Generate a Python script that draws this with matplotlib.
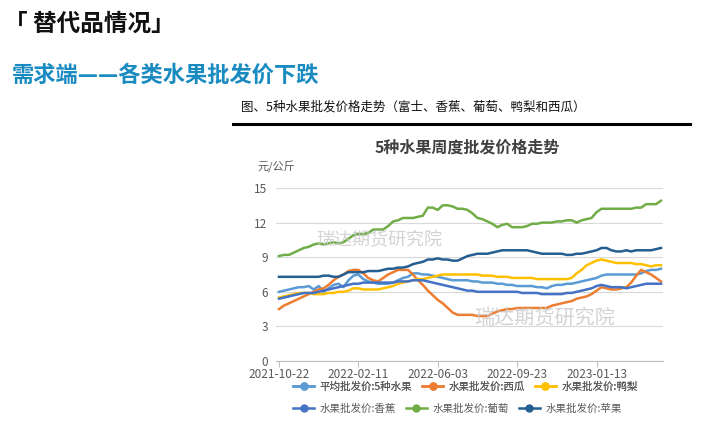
import numpy as np
import pandas as pd
import matplotlib
matplotlib.use("Agg")
import matplotlib.pyplot as plt
from matplotlib.lines import Line2D

plt.rcParams['font.family'] = ['Noto Sans CJK SC', 'DejaVu Sans']

# weekly dates, 2021-10-22 onwards
dates = pd.date_range('2021-10-22', periods=78, freq='7D')
tick_idx = [0, 16, 32, 48, 64]

avg5 = [6.0, 6.1, 6.2, 6.3, 6.4, 6.4, 6.5, 6.2, 6.5, 6.0, 6.3, 6.6, 6.7, 6.4, 7.0, 7.4, 7.5, 7.1, 6.9, 6.8,
        6.7, 6.7, 6.7, 6.8, 7.0, 7.2, 7.3, 7.6, 7.6, 7.5, 7.5, 7.4, 7.3, 7.2, 7.1, 7.0, 7.0, 7.0, 7.0, 6.9,
        6.9, 6.8, 6.8, 6.8, 6.7, 6.7, 6.6, 6.6, 6.5, 6.5, 6.5, 6.5, 6.4, 6.4, 6.3, 6.5, 6.6, 6.6, 6.7, 6.7,
        6.8, 6.9, 7.0, 7.1, 7.2, 7.4, 7.5, 7.5, 7.5, 7.5, 7.5, 7.5, 7.5, 7.6, 7.8, 7.9, 7.9, 8.0]
watermelon = [4.5, 4.8, 5.0, 5.2, 5.4, 5.6, 5.8, 6.0, 6.2, 6.3, 6.6, 7.0, 7.3, 7.5, 7.8, 7.9, 7.9, 7.6, 7.2, 7.0,
              6.9, 7.2, 7.5, 7.7, 7.9, 7.9, 7.9, 7.5, 7.0, 6.6, 6.1, 5.7, 5.3, 5.0, 4.6, 4.2, 4.0, 4.0, 4.0, 4.0,
              3.9, 3.9, 3.9, 4.1, 4.3, 4.4, 4.5, 4.5, 4.6, 4.6, 4.6, 4.6, 4.6, 4.6, 4.6, 4.8, 4.9, 5.0, 5.1, 5.2,
              5.4, 5.5, 5.6, 5.8, 6.1, 6.4, 6.3, 6.2, 6.2, 6.3, 6.4, 6.8, 7.4, 7.9, 7.7, 7.5, 7.2, 6.9]
pear = [5.5, 5.6, 5.7, 5.8, 5.9, 5.9, 5.9, 5.8, 5.8, 5.8, 5.9, 5.9, 6.0, 6.0, 6.1, 6.3, 6.3, 6.2, 6.2, 6.2,
        6.2, 6.3, 6.4, 6.5, 6.7, 6.8, 6.9, 7.0, 7.1, 7.1, 7.2, 7.3, 7.4, 7.5, 7.5, 7.5, 7.5, 7.5, 7.5, 7.5,
        7.5, 7.4, 7.4, 7.4, 7.3, 7.3, 7.3, 7.2, 7.2, 7.2, 7.2, 7.2, 7.1, 7.1, 7.1, 7.1, 7.1, 7.1, 7.1, 7.2,
        7.6, 7.9, 8.3, 8.5, 8.7, 8.8, 8.7, 8.6, 8.5, 8.5, 8.5, 8.5, 8.4, 8.4, 8.3, 8.2, 8.3, 8.3]
banana = [5.4, 5.5, 5.6, 5.7, 5.8, 5.9, 5.9, 5.9, 6.0, 6.1, 6.2, 6.3, 6.4, 6.5, 6.6, 6.7, 6.7, 6.8, 6.8, 6.8,
          6.8, 6.8, 6.8, 6.8, 6.9, 6.9, 6.9, 7.0, 7.0, 7.0, 6.9, 6.8, 6.7, 6.6, 6.5, 6.4, 6.3, 6.2, 6.1, 6.1,
          6.0, 6.0, 6.0, 6.0, 6.0, 6.0, 6.0, 6.0, 6.0, 5.9, 5.9, 5.9, 5.9, 5.8, 5.8, 5.8, 5.8, 5.8, 5.9, 5.9,
          6.0, 6.1, 6.2, 6.3, 6.5, 6.6, 6.5, 6.4, 6.4, 6.4, 6.3, 6.4, 6.5, 6.6, 6.7, 6.7, 6.7, 6.7]
grape = [9.1, 9.2, 9.2, 9.4, 9.6, 9.8, 9.9, 10.1, 10.2, 10.1, 10.2, 10.3, 10.2, 10.3, 10.6, 10.9, 11.0, 11.0, 11.1, 11.4,
         11.4, 11.4, 11.7, 12.1, 12.2, 12.4, 12.4, 12.4, 12.5, 12.6, 13.3, 13.3, 13.1, 13.5, 13.5, 13.4, 13.2, 13.2, 13.1, 12.8,
         12.4, 12.3, 12.1, 11.9, 11.6, 11.8, 11.9, 11.6, 11.6, 11.6, 11.7, 11.9, 11.9, 12.0, 12.0, 12.0, 12.1, 12.1, 12.2, 12.2,
         12.0, 12.2, 12.3, 12.4, 12.9, 13.2, 13.2, 13.2, 13.2, 13.2, 13.2, 13.2, 13.3, 13.3, 13.6, 13.6, 13.6, 13.9]
apple = [7.3, 7.3, 7.3, 7.3, 7.3, 7.3, 7.3, 7.3, 7.3, 7.4, 7.4, 7.3, 7.3, 7.5, 7.7, 7.7, 7.7, 7.7, 7.8, 7.8,
         7.8, 7.9, 8.0, 8.0, 8.1, 8.1, 8.2, 8.4, 8.5, 8.6, 8.8, 8.8, 8.9, 8.8, 8.8, 8.7, 8.7, 8.9, 9.1, 9.2,
         9.3, 9.3, 9.3, 9.4, 9.5, 9.6, 9.6, 9.6, 9.6, 9.6, 9.6, 9.5, 9.4, 9.3, 9.3, 9.3, 9.3, 9.3, 9.2, 9.2,
         9.3, 9.3, 9.4, 9.5, 9.6, 9.8, 9.8, 9.6, 9.5, 9.5, 9.6, 9.5, 9.6, 9.6, 9.6, 9.6, 9.7, 9.8]

names = ['平均批发价:5种水果', '水果批发价:西瓜', '水果批发价:鸭梨',
         '水果批发价:香蕉', '水果批发价:葡萄', '水果批发价:苹果']
series = [avg5, watermelon, pear, banana, grape, apple]
colors = ['#5B9BD5', '#ED7D31', '#FFC000', '#4472C4', '#70AD47', '#255E91']

W, H = 711, 428
fig = plt.figure(figsize=(W / 100, H / 100), dpi=100)

def fx(px):
    return px / W

def fy(py):
    return 1 - py / H

# page headers
fig.text(fx(4), fy(24), '「 替代品情况」', fontsize=17, fontweight='bold', va='center', ha='left', color='#111111')
fig.text(fx(12), fy(75), '需求端——各类水果批发价下跌', fontsize=16, fontweight='bold', va='center', ha='left',
         color='#1A8BC0')
fig.text(fx(241), fy(107), '图、5种水果批发价格走势（富士、香蕉、葡萄、鸭梨和西瓜）', fontsize=9,
         va='center', ha='left', color='#111111')
fig.add_artist(Line2D([fx(233), fx(690)], [fy(124), fy(124)], color='black', lw=2.2))

# chart
ax = fig.add_axes([fx(276), fy(361), fx(663) - fx(276), fy(188) - fy(361)])
x = np.arange(len(dates))
for vals, c, n in zip(series, colors, names):
    ax.plot(x, vals, color=c, lw=1.8, label=n)

ax.set_xlim(-0.6, 77.4)
ax.set_ylim(0, 15)
ax.set_yticks(range(0, 16, 3))
ax.set_xticks(tick_idx)
ax.set_xticklabels([dates[i].strftime('%Y-%m-%d') for i in tick_idx])
ax.grid(axis='y', color='#D9D9D9', lw=0.8)
ax.set_axisbelow(True)
for s in ['top', 'right', 'left']:
    ax.spines[s].set_visible(False)
ax.spines['bottom'].set_color('#BFBFBF')
ax.tick_params(axis='y', length=0, labelsize=8.5, colors='#595959', pad=6)
ax.tick_params(axis='x', length=4, color='#BFBFBF', labelsize=8.5, labelcolor='#595959', pad=1)

fig.text(fx(467), fy(148), '5种水果周度批发价格走势', fontsize=11.5, fontweight='bold', ha='center', va='center',
         color='#404040')
fig.text(fx(257), fy(167), '元/公斤', fontsize=8, ha='left', va='center', color='#595959')

# watermarks
fig.text(fx(379), fy(240), '瑞达期货研究院', fontsize=13, ha='center', va='center', color='#C8C8C8', alpha=0.8)
fig.text(fx(545), fy(318), '瑞达期货研究院', fontsize=14.5, ha='center', va='center', color='#C8C8C8', alpha=0.8)

# legend, two rows
handles = [Line2D([0], [0], color=c, lw=1.8, marker='o', markersize=5) for c in colors]
leg_kw = dict(ncol=3, loc='center left', frameon=False, fontsize=7.6, handlelength=2.0,
              columnspacing=0.9, handletextpad=0.55, borderpad=0, borderaxespad=0, labelcolor='#595959')
leg1 = fig.legend(handles[:3], names[:3], bbox_to_anchor=(fx(293), fy(387)), **leg_kw)
leg2 = fig.legend(handles[3:], names[3:], bbox_to_anchor=(fx(293), fy(409)), **leg_kw)
fig.add_artist(leg1)

fig.savefig('out.png', dpi=100, facecolor='white')
